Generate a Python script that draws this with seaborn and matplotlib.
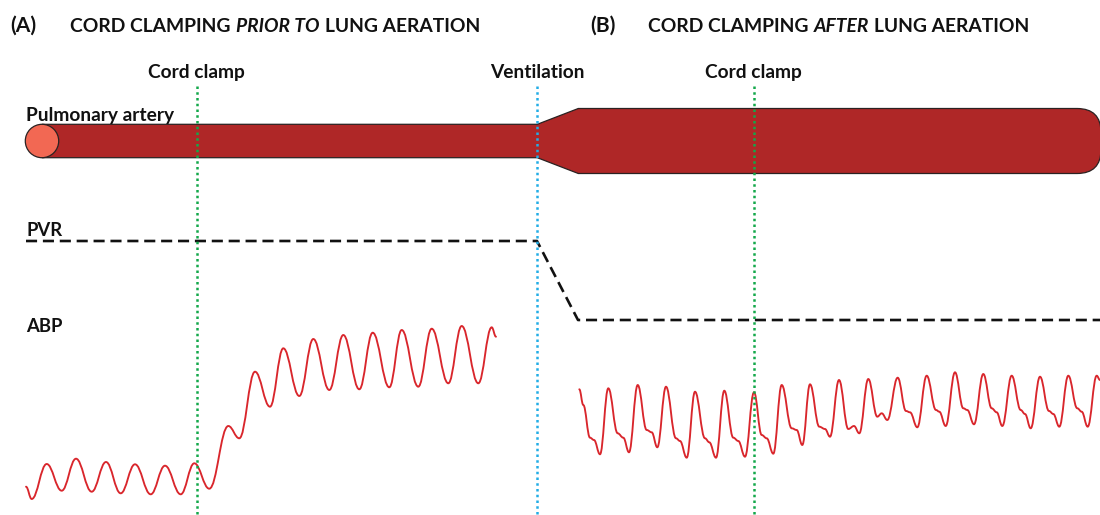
import numpy as np
import pandas as pd
import matplotlib
matplotlib.use("Agg")
import matplotlib.pyplot as plt
from matplotlib.path import Path
from matplotlib.patches import PathPatch, Circle
import seaborn as sns

# ---- values (pixel space, y down) ----
# arterial blood pressure, panel A (peaks / troughs)
abp_a_x = [26, 31.7, 46.7, 61.7, 76, 91.7, 106, 120.7, 135, 150.7, 165, 180.7, 194.3,
           209.3, 228.3, 239.3, 255, 270, 283.3, 299.3, 313.3, 329.3, 343.3, 359.3,
           372.7, 389.3, 401.7, 418.3, 431.7, 448.3, 461.7, 478.3, 491.7, 496]
abp_a_y = [486.7, 499, 464, 490.7, 458.7, 491.7, 462, 493.3, 464.3, 494.3, 465.7, 494.3, 463.3,
           488.7, 426, 438.3, 371.7, 406.7, 348.3, 396, 339, 390, 335, 389.3,
           332.7, 387.3, 330, 386.7, 328.7, 383.3, 326, 383.3, 327.3, 336.7]

# arterial blood pressure, panel B (peak, shoulder, notch, trough per beat)
abp_b_x = [579.3, 583.3, 590, 594, 600, 608.3, 617.7, 623.3, 629, 637.7, 646.7, 651.7, 657.3,
           666, 676, 680, 686.7, 695, 705, 709.3, 716, 724.3, 733.3, 738.3, 745,
           754, 761.7, 766.7, 773.3, 781.7, 791.7, 796.7, 802.3, 810, 819.3, 825, 830,
           839, 848.3, 854, 859.3, 868.3, 877.3, 881.7, 887.3, 897.7, 906, 910, 917.3,
           926.7, 936, 939.3, 945.7, 955, 963.3, 967.3, 974, 983.3, 991.7, 996.7, 1002.3,
           1011.7, 1020.7, 1025, 1030.7, 1040, 1049, 1053.3, 1059.3, 1068.3, 1077.3,
           1081.7, 1087.7, 1096.7, 1100]
abp_b_y = [389.3, 405, 437.7, 440, 454.3, 388.3, 433.3, 437.7, 452.3, 385, 430, 432.3, 447.3,
           386.7, 438.3, 441, 457.7, 391.7, 438.3, 442.3, 457.7, 390.7, 437.7, 441, 456.7,
           392.3, 435, 438.3, 453.7, 385, 428.3, 430, 445, 384.3, 426.7, 429, 436.7,
           380, 429, 426, 433.3, 379, 416.7, 413.3, 420, 377.7, 411, 412.3, 427.3,
           375.7, 410, 411.7, 426, 372.3, 408.3, 410, 424.3, 374, 408.3, 412.3, 426,
           375.7, 410, 414, 428.3, 376.7, 411, 414, 426.7, 375.7, 408.3,
           411.7, 426.7, 375.7, 380]

# pulmonary vascular resistance
pvr_x = [26, 537, 578, 1100]
pvr_y = [241, 241, 320, 320]

# pulmonary artery outline: x stations and half widths about the centre line
vessel_x = [42, 537.3, 578.3, 1077]
vessel_half = [16.7, 16.7, 32.5, 32.5]
vessel_mid = 141

events = ["Cord clamp", "Ventilation", "Cord clamp"]
event_x = [196.5, 537.3, 753.5]
event_col = ["#13a84a", "#22ade6", "#13a84a"]

RED = "#d9262c"
VESSEL = "#af2727"
INK = "#111111"


def smooth_path(xs, ys, k=0.4):
    # bezier through the read points, flat tangents at each point
    verts = [(xs[0], ys[0])]
    codes = [Path.MOVETO]
    for i in range(1, len(xs)):
        dx = xs[i] - xs[i - 1]
        verts += [(xs[i - 1] + k * dx, ys[i - 1]), (xs[i] - k * dx, ys[i]), (xs[i], ys[i])]
        codes += [Path.CURVE4] * 3
    return Path(verts, codes)


sns.set_theme(style="white")
plt.rcParams["font.family"] = ["Lato", "DejaVu Sans"]

fig = plt.figure(figsize=(11, 5.15), dpi=100)
ax = fig.add_axes([0, 0, 1, 1])

# vessel
x0, x1, x2, x3 = vessel_x
h0, h1, h2, h3 = vessel_half
m = vessel_mid
r = 24
verts = [(x0, m - h0), (x1, m - h1), (x2, m - h2), (x3, m - h3),
         (x3 + r, m - h3), (x3 + r, m - h3 + r),
         (x3 + r, m + h3 - r),
         (x3 + r, m + h3), (x3, m + h3),
         (x2, m + h2), (x1, m + h1), (x0, m + h0), (x0, m - h0)]
codes = [Path.MOVETO, Path.LINETO, Path.LINETO, Path.LINETO,
         Path.CURVE3, Path.CURVE3, Path.LINETO, Path.CURVE3, Path.CURVE3,
         Path.LINETO, Path.LINETO, Path.LINETO, Path.CLOSEPOLY]
ax.add_patch(PathPatch(Path(verts, codes), facecolor=VESSEL, edgecolor="#2a2222", lw=0.9, zorder=2))
ax.add_patch(Circle((x0, m), h0, facecolor="#f26853", edgecolor="#2a2222", lw=0.9, zorder=3))

# PVR
pvr = pd.DataFrame({"x": pvr_x, "y": pvr_y})
sns.lineplot(data=pvr, x="x", y="y", ax=ax, color=INK, lw=1.9, sort=False, zorder=4)
ax.lines[-1].set_dashes((4.2, 2.2))

# ABP traces
for xs, ys in [(abp_a_x, abp_a_y), (abp_b_x, abp_b_y)]:
    ax.add_patch(PathPatch(smooth_path(xs, ys), facecolor="none", edgecolor=RED,
                           lw=1.35, zorder=4, capstyle="round", joinstyle="round"))

# event markers
for lab, xv, c in zip(events, event_x, event_col):
    ax.plot([xv, xv], [86, 515], color=c, lw=1.8, dashes=(1, 1.3), zorder=5)
    ax.text(xv, 78, lab, ha="center", va="baseline", fontsize=13.8, fontweight="bold", color=INK)

# row labels
for lab, yv, fs in [("Pulmonary artery", 120.5, 13.8), ("PVR", 236, 13.3), ("ABP", 332.5, 13.3)]:
    ax.text(26, yv, lab, ha="left", va="baseline", fontsize=fs, fontweight="bold", color=INK)


def title(xp, xs, parts, fs=13.9):
    ax.text(xp, 31.5, parts[0][0], ha="left", va="baseline", fontsize=fs + 1.2,
            fontweight="bold", color=INK)
    t = ax.text(xs, 31.5, parts[1][0], ha="left", va="baseline", fontsize=fs,
                fontweight="bold", color=INK)
    for s, st in parts[2:]:
        t = ax.annotate(s, xy=(1, 0), xycoords=t, xytext=(3.8, 0), textcoords="offset points",
                        ha="left", va="bottom", fontsize=fs, fontweight="bold",
                        fontstyle=st, color=INK)


title(10, 70, [("(A)", "normal"), ("CORD CLAMPING", "normal"), ("PRIOR TO", "italic"),
               ("LUNG AERATION", "normal")])
title(590, 648, [("(B)", "normal"), ("CORD CLAMPING", "normal"), ("AFTER", "italic"),
                 ("LUNG AERATION", "normal")])

ax.set_xlim(0, 1100)
ax.set_ylim(515, 0)
ax.axis("off")

fig.savefig("out.png", dpi=100, facecolor="white")
